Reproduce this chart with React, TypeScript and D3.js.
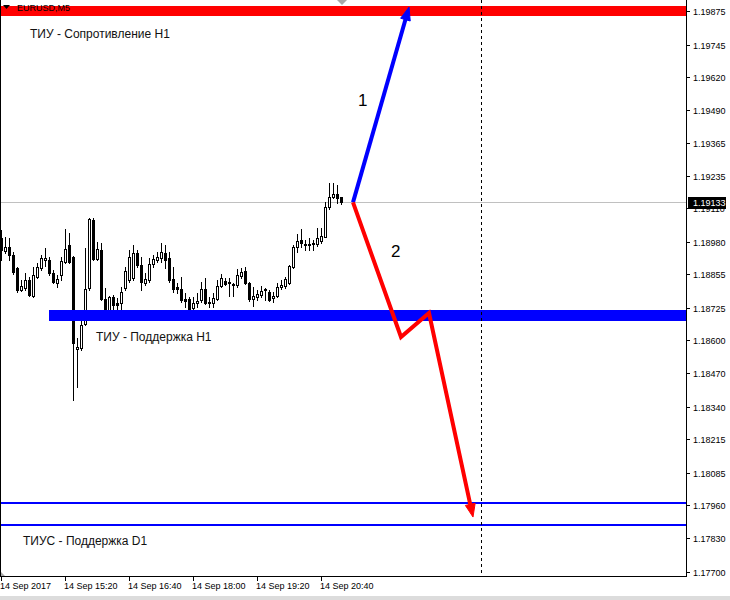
import React from 'react';
import * as d3 from 'd3';

const symbolLabel = 'EURUSD,M5';
const startTime = new Date(2017, 8, 14, 14, 0);
const barMs = 5 * 60 * 1000;

const opens = [1.18994,1.18944,1.18960,1.18929,1.18878,1.18793,1.18801,1.18832,1.18770,1.18843,1.18878,1.18909,1.18909,1.18859,1.18820,1.18851,1.18901,1.18967,1.18921,1.18565,1.18568,1.18661,1.18801,1.19064,1.18913,1.18948,1.18758,1.18708,1.18766,1.18743,1.18743,1.18801,1.18832,1.18839,1.18936,1.18890,1.18820,1.18832,1.18894,1.18909,1.18917,1.18936,1.18917,1.18836,1.18805,1.18797,1.18758,1.18758,1.18723,1.18743,1.18754,1.18797,1.18747,1.18743,1.18758,1.18809,1.18828,1.18824,1.18812,1.18812,1.18847,1.18867,1.18820,1.18758,1.18766,1.18774,1.18797,1.18785,1.18762,1.18770,1.18805,1.18809,1.18820,1.18882,1.18960,1.18987,1.18971,1.18971,1.18971,1.18971,1.18983,1.18998,1.19115,1.19154,1.19165,1.19154];
const highs = [1.19025,1.18998,1.18994,1.18940,1.18882,1.18832,1.18859,1.18843,1.18882,1.18898,1.18929,1.18956,1.18921,1.18871,1.18851,1.18921,1.19029,1.19014,1.18925,1.18607,1.18677,1.18956,1.19072,1.19072,1.18979,1.18975,1.18801,1.18770,1.18774,1.18762,1.18805,1.18882,1.18948,1.18967,1.18948,1.18921,1.18859,1.18917,1.18929,1.18940,1.18975,1.18967,1.18940,1.18882,1.18820,1.18843,1.18781,1.18766,1.18766,1.18781,1.18824,1.18839,1.18766,1.18781,1.18832,1.18855,1.18839,1.18839,1.18820,1.18874,1.18878,1.18882,1.18824,1.18805,1.18793,1.18809,1.18801,1.18793,1.18785,1.18820,1.18832,1.18843,1.18890,1.18967,1.19010,1.19029,1.18987,1.18994,1.18987,1.19033,1.19033,1.19134,1.19208,1.19208,1.19200,1.19154];
const lows = [1.18909,1.18936,1.18909,1.18855,1.18785,1.18789,1.18793,1.18770,1.18766,1.18839,1.18871,1.18886,1.18851,1.18820,1.18805,1.18832,1.18898,1.18898,1.18367,1.18417,1.18561,1.18658,1.18793,1.18909,1.18909,1.18754,1.18704,1.18704,1.18704,1.18689,1.18716,1.18793,1.18824,1.18832,1.18882,1.18793,1.18812,1.18824,1.18882,1.18901,1.18901,1.18878,1.18824,1.18785,1.18781,1.18747,1.18727,1.18689,1.18692,1.18727,1.18747,1.18739,1.18727,1.18727,1.18754,1.18805,1.18812,1.18770,1.18770,1.18805,1.18839,1.18816,1.18750,1.18731,1.18754,1.18766,1.18754,1.18750,1.18747,1.18766,1.18797,1.18801,1.18816,1.18878,1.18940,1.18960,1.18948,1.18948,1.18948,1.18963,1.18975,1.18998,1.19107,1.19150,1.19130,1.19126];
const closes = [1.18948,1.18960,1.18929,1.18863,1.18793,1.18809,1.18832,1.18774,1.18851,1.18882,1.18917,1.18917,1.18859,1.18824,1.18836,1.18905,1.18952,1.18901,1.18588,1.18572,1.18658,1.18797,1.19068,1.18913,1.18952,1.18758,1.18708,1.18766,1.18735,1.18735,1.18785,1.18867,1.18921,1.18936,1.18890,1.18824,1.18836,1.18894,1.18913,1.18921,1.18940,1.18909,1.18832,1.18797,1.18797,1.18754,1.18750,1.18720,1.18743,1.18750,1.18797,1.18743,1.18743,1.18762,1.18809,1.18839,1.18816,1.18820,1.18816,1.18851,1.18863,1.18820,1.18758,1.18770,1.18778,1.18789,1.18793,1.18754,1.18770,1.18805,1.18812,1.18836,1.18886,1.18960,1.18983,1.18975,1.18967,1.18967,1.18975,1.18994,1.19002,1.19115,1.19154,1.19165,1.19150,1.19133];

const yTickLabels = ['1.19875','1.19745','1.19620','1.19490','1.19365','1.19235','1.19110','1.18980','1.18855','1.18725','1.18600','1.18470','1.18340','1.18215','1.18085','1.17960','1.17830','1.17700'];
const xTickTimes = ['14:00','15:20','16:40','18:00','19:20','20:40'];
const xTickLabels = ['14 Sep 2017','14 Sep 15:20','14 Sep 16:40','14 Sep 18:00','14 Sep 19:20','14 Sep 20:40'];

const currentPrice = 1.19133;
const resistanceH1 = 1.19875;
const supportH1 = 1.18698;
const supportH1Start = '15:00';
const supportD1Upper = 1.17967;
const supportD1Lower = 1.17882;
const separatorTime = new Date(2017, 8, 15, 0, 0);

const blueArrowTimes = ['21:20','22:30'];
const blueArrowPrices = [1.19133, 1.19890];
const redArrowTimes = ['21:20','22:20','22:55','23:50'];
const redArrowPrices = [1.19133, 1.18611, 1.18704, 1.17913];

const labelResistance = 'ТИУ - Сопротивление Н1';
const labelSupportH1 = 'ТИУ - Поддержка Н1';
const labelSupportD1 = 'ТИУС - Поддержка D1';

const FONT = '"Liberation Sans", Arial, sans-serif';

function t(hm: string) {
  const [h, m] = hm.split(':').map(Number);
  return new Date(2017, 8, 14, h, m);
}

export default function App() {
  const W = 730, H = 600;
  const right = 686, bottom = 576;
  const y = d3.scaleLinear().domain([1.177, 1.19875]).range([572, 11]);
  const x = d3.scaleTime().domain([startTime, new Date(+startTime + 171.25 * barMs)]).range([1, 686]);
  const r = (v: number) => Math.round(v);

  const candles = opens.map((o, i) => ({
    time: new Date(+startTime + i * barMs), o, h: highs[i], l: lows[i], c: closes[i],
  }));

  const arrow = (times: string[], prices: number[], color: string) => {
    const pts = times.map((tm, i) => [x(t(tm)), y(prices[i])] as [number, number]);
    const n = pts.length;
    const tip = pts[n - 1];
    const prev = pts[n - 2];
    const dx = tip[0] - prev[0], dy = tip[1] - prev[1];
    const len = Math.hypot(dx, dy);
    const ux = dx / len, uy = dy / len;
    const headLen = 13, headHalf = 5;
    const base = [tip[0] - ux * headLen, tip[1] - uy * headLen];
    const lineEnd: [number, number] = [tip[0] - ux * (headLen - 2), tip[1] - uy * (headLen - 2)];
    const linePts = [...pts.slice(0, n - 1), lineEnd];
    const line = d3.line()(linePts) || '';
    const head = `M${tip[0]},${tip[1]}L${base[0] - uy * headHalf},${base[1] + ux * headHalf}L${base[0] + uy * headHalf},${base[1] - ux * headHalf}Z`;
    return (
      <g>
        <path d={line} fill="none" stroke={color} strokeWidth={4} strokeLinejoin="miter" />
        <path d={head} fill={color} stroke={color} strokeWidth={1} />
      </g>
    );
  };

  const priceY = r(y(currentPrice));

  return (
    <svg width={W} height={H} style={{ position: 'absolute', left: 0, top: 0, background: '#fff' }} fontFamily={FONT}>
      <rect x={0} y={0} width={W} height={H} fill="#fff" />
      {/* current price line */}
      <line x1={0} x2={right} y1={priceY + 0.5} y2={priceY + 0.5} stroke="#c0c0c0" strokeWidth={1} shapeRendering="crispEdges" />
      {/* candles */}
      <g shapeRendering="crispEdges">
        {candles.map((d, i) => {
          const cx = r(x(d.time));
          const yh = r(y(d.h)), yl = r(y(d.l));
          const top = r(y(Math.max(d.o, d.c))), bot = r(y(Math.min(d.o, d.c)));
          const bull = d.c >= d.o;
          return (
            <g key={i}>
              <rect x={cx} y={yh} width={1} height={yl - yh + 1} fill="#000" />
              {bull ? (
                <rect x={cx - 1 + 0.5} y={top + 0.5} width={2} height={Math.max(bot - top, 0)} fill="#fff" stroke="#000" strokeWidth={1} />
              ) : (
                <rect x={cx - 1} y={top} width={3} height={bot - top + 1} fill="#000" />
              )}
            </g>
          );
        })}
      </g>
      {/* levels */}
      <g shapeRendering="crispEdges">
        <rect x={0} y={r(y(resistanceH1)) - 5} width={right} height={10} fill="#ff0000" />
        <rect x={r(x(t(supportH1Start)))} y={r(y(supportH1)) - 5} width={right - r(x(t(supportH1Start)))} height={11} fill="#0000ff" />
        <rect x={0} y={r(y(supportD1Upper)) - 1} width={right} height={2} fill="#0000ff" />
        <rect x={0} y={r(y(supportD1Lower)) - 1} width={right} height={2} fill="#0000ff" />
      </g>
      {/* separator */}
      <line x1={r(x(separatorTime)) + 0.5} x2={r(x(separatorTime)) + 0.5} y1={0} y2={bottom} stroke="#000" strokeDasharray="3,3" strokeWidth={1} shapeRendering="crispEdges" />
      {/* arrows */}
      {arrow(blueArrowTimes, blueArrowPrices, '#0000ff')}
      {arrow(redArrowTimes, redArrowPrices, '#ff0000')}
      <text x={358} y={106} fontSize={17} fill="#000">1</text>
      <text x={391} y={257} fontSize={17} fill="#000">2</text>
      {/* labels */}
      <text x={30} y={38} fontSize={12} fill="#111">{labelResistance}</text>
      <text x={96} y={341} fontSize={12} fill="#111">{labelSupportH1}</text>
      <text x={23} y={545} fontSize={12} fill="#111">{labelSupportD1}</text>
      {/* symbol */}
      <path d="M3,5L10,5L6.5,9Z" fill="#000" />
      <text x={17} y={11} fontSize={9} fill="#000">{symbolLabel}</text>
      <path d="M337,0L347,0L342,5Z" fill="#a8a8a8" />
      <path d="M0,571L0,576L5,576Z" fill="#a8a8a8" />
      {/* frame */}
      <g shapeRendering="crispEdges" stroke="#000" strokeWidth={1}>
        <line x1={0.5} x2={0.5} y1={0} y2={bottom} />
        <line x1={0} x2={right + 1} y1={bottom + 0.5} y2={bottom + 0.5} />
        <line x1={right + 0.5} x2={right + 0.5} y1={0} y2={bottom + 1} />
      </g>
      {/* y axis */}
      <g fontSize={9} fill="#000">
        {yTickLabels.map((lab) => {
          const yy = r(y(+lab));
          return (
            <g key={lab}>
              <line x1={right} x2={right + 4} y1={yy + 0.5} y2={yy + 0.5} stroke="#000" shapeRendering="crispEdges" />
              <text x={693} y={yy + 3.5}>{lab}</text>
            </g>
          );
        })}
      </g>
      <rect x={688} y={priceY - 5} width={38} height={12} fill="#000" />
      <text x={693} y={priceY + 4} fontSize={9} fill="#fff">{currentPrice.toFixed(5)}</text>
      {/* x axis */}
      <g fontSize={9} fill="#000">
        {xTickTimes.map((tm, i) => {
          const xx = r(x(t(tm)));
          return (
            <g key={tm}>
              <line x1={xx + 0.5} x2={xx + 0.5} y1={bottom} y2={bottom + 5} stroke="#000" shapeRendering="crispEdges" />
              <text x={xx - 1} y={589}>{xTickLabels[i]}</text>
            </g>
          );
        })}
      </g>
      <rect x={0} y={596} width={W} height={4} fill="#dcdcdc" />
    </svg>
  );
}
